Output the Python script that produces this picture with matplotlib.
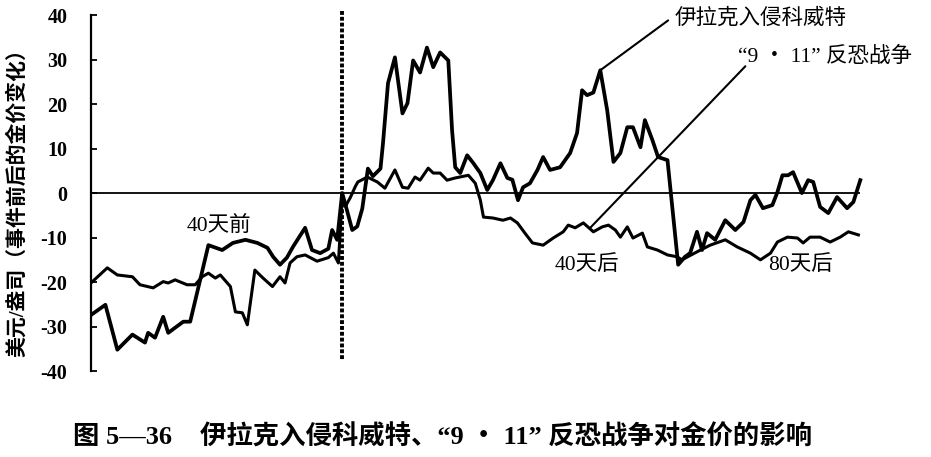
import numpy as np
import matplotlib.pyplot as plt

plt.rcParams['font.family'] = ['Liberation Serif', 'Noto Sans CJK SC', 'DejaVu Sans']
plt.rcParams['axes.unicode_minus'] = False

# 伊拉克入侵科威特 (days relative to event, change in USD/oz)
iraq_days = [-40.0, -37.7, -35.8, -33.4, -31.4, -30.9, -29.8, -28.5, -27.7, -25.3,
             -24.2, -23.1, -21.3, -20.5, -19.1, -17.4, -15.4, -13.5, -11.9, -11.0,
             -9.9, -8.8, -7.8, -5.9, -4.8, -3.5, -2.2, -1.6, -0.8, 0.0,
             0.6, 1.6, 2.4, 3.2, 4.1, 4.9, 6.1, 6.5, 7.3, 8.4,
             9.6, 10.4, 11.3, 12.4, 13.5, 14.5, 15.6, 16.9, 17.5, 18.0,
             18.8, 19.9, 20.9, 22.0, 23.1, 24.0, 25.2, 26.3, 27.1, 28.0,
             28.8, 29.9, 31.1, 32.0, 33.1, 34.7, 36.3, 37.4, 38.2, 39.0,
             40.0, 41.1, 42.2, 43.2, 44.3, 45.4, 46.3, 47.5, 48.2, 49.4,
             50.3, 51.8, 53.5, 54.6, 55.4, 56.5, 57.3, 58.1, 59.4, 61.0,
             62.6, 63.9, 65.0, 65.8, 67.0, 68.5, 69.3, 70.1, 71.0, 71.8,
             73.2, 74.2, 75.0, 76.1, 77.4, 78.8, 80.4, 81.4, 82.5]
iraq_vals = [-27.4, -25.1, -35.2, -31.8, -33.6, -31.4, -32.5, -27.8, -31.4, -28.9,
             -28.9, -22.4, -11.7, -12.1, -12.8, -11.2, -10.5, -11.2, -12.3, -14.3,
             -16.1, -14.5, -12.0, -7.8, -12.8, -13.5, -12.5, -8.3, -10.5, 0.0,
             -3.0, -8.3, -7.5, -3.5, 5.5, 3.8, 5.5, 11.2, 24.7, 30.5,
             17.9, 20.2, 29.8, 27.1, 32.7, 28.3, 31.6, 29.8, 14.1, 5.8,
             4.5, 8.5, 6.7, 4.5, 0.7, 2.9, 6.7, 3.4, 3.0, -1.6,
             1.3, 2.2, 5.2, 8.1, 5.2, 5.8, 9.0, 13.5, 23.1, 22.0,
             22.6, 27.6, 18.6, 7.0, 9.0, 14.8, 14.8, 10.3, 16.4, 11.9,
             8.1, 7.4, -16.1, -14.3, -13.5, -8.7, -12.8, -9.0, -10.5, -6.1,
             -8.3, -6.5, -1.6, -0.4, -3.4, -2.7, 0.2, 4.0, 4.0, 4.7,
             0.0, 2.9, 2.5, -3.1, -4.5, -0.9, -3.4, -2.0, 2.9]

# “9·11”反恐战争
wtc_days = [-40.0, -37.4, -35.8, -33.4, -32.2, -30.1, -28.5, -27.7, -26.6, -24.7,
            -23.4, -22.3, -21.3, -20.2, -19.4, -17.8, -17.0, -15.9, -15.1, -13.9,
            -12.6, -11.1, -9.9, -9.1, -8.3, -7.2, -5.9, -4.0, -2.2, -1.4,
            -0.6, 0.0, 0.5, 1.3, 2.1, 2.5, 4.0, 5.6, 6.8, 8.4,
            9.6, 10.5, 11.6, 12.4, 13.7, 14.5, 15.6, 16.7, 18.0, 20.1,
            21.2, 22.0, 22.5, 24.0, 25.6, 26.8, 27.9, 29.1, 30.3, 32.0,
            33.6, 35.2, 36.0, 37.1, 38.4, 40.0, 41.4, 42.4, 43.5, 44.3,
            45.4, 46.3, 47.8, 48.6, 50.2, 51.8, 53.3, 54.1, 56.5, 58.6,
            61.0, 62.9, 65.0, 66.6, 68.2, 69.3, 70.9, 72.5, 73.4, 74.5,
            76.1, 77.7, 79.3, 80.6, 82.2]
wtc_vals = [-20.2, -16.8, -18.4, -18.8, -20.6, -21.3, -19.9, -20.2, -19.5, -20.6,
            -20.6, -18.8, -18.0, -19.1, -18.4, -21.0, -26.7, -26.9, -29.6, -17.3,
            -19.1, -21.0, -18.8, -20.2, -15.7, -14.3, -13.9, -15.3, -14.5, -13.5,
            -15.7, -1.0, -3.0, -1.0, 1.5, 2.5, 3.6, 2.5, 1.1, 5.2,
            1.3, 1.1, 3.6, 2.9, 5.6, 4.5, 4.5, 2.9, 3.4, 4.0,
            2.2, -1.6, -5.4, -5.6, -6.1, -5.6, -6.7, -9.0, -11.2, -11.7,
            -10.1, -8.7, -7.2, -7.8, -6.7, -8.7, -7.6, -7.2, -8.3, -9.9,
            -7.6, -10.1, -9.0, -12.1, -12.8, -13.9, -14.3, -15.0, -13.2, -11.7,
            -10.5, -12.1, -13.5, -15.0, -13.5, -11.0, -9.9, -10.1, -11.2, -9.9,
            -9.9, -11.0, -9.9, -8.7, -9.4]

yticks = [40, 30, 20, 10, 0, -10, -20, -30, -40]

fig = plt.figure(figsize=(9.31, 4.57), dpi=100)
ax = fig.add_axes([0.0977, 0.188, 0.8331, 0.779])

ax.plot(iraq_days, iraq_vals, color='black', lw=2.7, solid_joinstyle='round')
ax.plot(wtc_days, wtc_vals, color='black', lw=2.2, solid_joinstyle='round')

ax.hlines(0, -40, 82.5, color='black', lw=1.3)
ax.plot([0, 0], [41.0, -37.4], color='black', lw=2.8,
        linestyle=(0, (1.0, 0.5)), clip_on=False)

ax.set_xlim(-40, 83.5)
ax.set_ylim(-40, 40)
ax.set_yticks(yticks)
ax.set_yticklabels([str(v) for v in yticks], fontsize=14.5, fontweight='bold')
ax.set_xticks([])
ax.tick_params(axis='y', direction='in', length=4, width=1.3, pad=17)
for s in ['top', 'right', 'bottom']:
    ax.spines[s].set_visible(False)
ax.spines['left'].set_linewidth(1.6)

# annotations
ax.annotate('', xy=(41.1, 27.6), xytext=(51.9, 38.8),
            arrowprops=dict(arrowstyle='-', color='black', lw=1.5,
                            shrinkA=0, shrinkB=0), annotation_clip=False)
ax.text(53.0, 39.3, '伊拉克入侵科威特', fontsize=15.5, ha='left', va='center')
ax.annotate('', xy=(39.5, -7.8), xytext=(64.2, 28.5),
            arrowprops=dict(arrowstyle='-', color='black', lw=1.5,
                            shrinkA=0, shrinkB=0))
ax.text(63.1, 30.6, '“9 ・ 11” 反恐战争', fontsize=15.5, ha='left', va='center')

ax.text(-19.6, -7.6, '40天前', fontsize=15.5, ha='center', va='center')
ax.text(38.9, -16.1, '40天后', fontsize=15.5, ha='center', va='center')
ax.text(72.9, -16.1, '80天后', fontsize=15.5, ha='center', va='center')

fig.text(18 / 931, 1 - 198 / 457, '美元/盎司（事件前后的金价变化）',
         rotation=90, ha='center', va='center', fontsize=15, fontweight='bold')

fig.text(73 / 931, 1 - 437 / 457, '图 5—36',
         ha='left', va='center', fontsize=19, fontweight='bold')
fig.text(200 / 931, 1 - 437 / 457,
         '伊拉克入侵科威特、“9 ・ 11” 反恐战争对金价的影响',
         ha='left', va='center', fontsize=19, fontweight='bold')

fig.savefig('out.png', dpi=100)
